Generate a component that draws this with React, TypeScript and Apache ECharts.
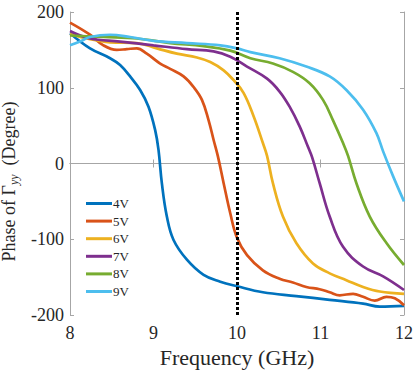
import React, { useEffect, useRef } from "react";
import * as echarts from "echarts";

const legendNames = ["4V", "5V", "6V", "7V", "8V", "9V"];
const colors = ["#0072BD", "#D95319", "#EDB120", "#7E2F8E", "#77AC30", "#4DBEEE"];

const v4: [number, number][] = [
  [8.0, 172], [8.24, 152], [8.48, 139], [8.6, 130], [8.72, 115], [8.84, 97], [8.94, 75],
  [9.02, 44], [9.06, 18], [9.1, -26], [9.16, -70], [9.24, -101], [9.4, -127], [9.6, -147],
  [9.8, -156], [10.0, -162], [10.31, -170], [10.71, -175], [11.11, -180], [11.51, -185],
  [11.71, -189], [12.0, -188],
];
const v5: [number, number][] = [
  [8.0, 186], [8.24, 170], [8.4, 156], [8.56, 150], [8.68, 151], [8.8, 152], [8.92, 145],
  [9.08, 132], [9.2, 125], [9.36, 115], [9.48, 101], [9.58, 84], [9.66, 57], [9.72, 31],
  [9.77, 10], [9.84, -26], [9.92, -66], [10.0, -98], [10.12, -121], [10.31, -141],
  [10.51, -152], [10.67, -157], [10.83, -163], [10.99, -166], [11.11, -170], [11.23, -174],
  [11.39, -172], [11.51, -176], [11.65, -181], [11.79, -176], [11.89, -178], [12.0, -187],
];
const v6: [number, number][] = [
  [8.0, 171], [8.24, 164], [8.48, 160], [8.8, 159], [9.04, 152], [9.28, 145], [9.52, 140],
  [9.68, 134], [9.84, 123], [9.96, 110], [10.08, 93], [10.2, 62], [10.31, 27], [10.36, 10],
  [10.43, -26], [10.55, -70], [10.71, -105], [10.91, -132], [11.11, -145], [11.31, -154],
  [11.51, -163], [11.71, -169], [12.0, -172],
];
const v7: [number, number][] = [
  [8.0, 175], [8.24, 165], [8.6, 161], [9.0, 156], [9.4, 151], [9.72, 148], [9.92, 141],
  [10.12, 128], [10.36, 112], [10.51, 95], [10.63, 75], [10.75, 49], [10.85, 22],
  [10.9, 8], [10.99, -26], [11.11, -70], [11.27, -110], [11.51, -136], [11.75, -149],
  [12.0, -167],
];
const v8: [number, number][] = [
  [8.0, 169], [8.4, 167], [8.8, 165], [9.2, 159], [9.6, 155], [9.92, 149], [10.16, 139],
  [10.43, 132], [10.67, 121], [10.87, 106], [11.03, 84], [11.15, 57], [11.27, 27],
  [11.33, 10], [11.43, -26], [11.59, -70], [11.79, -105], [12.0, -134],
];
const v9: [number, number][] = [
  [8.0, 156], [8.12, 161], [8.24, 167], [8.48, 170], [8.72, 167], [9.0, 162], [9.4, 159],
  [9.8, 156], [10.0, 152], [10.16, 147], [10.51, 139], [10.83, 128], [11.11, 115],
  [11.31, 97], [11.51, 71], [11.67, 40], [11.75, 16], [11.87, -17], [12.0, -50],
];
const seriesData = [v4, v5, v6, v7, v8, v9];

const xTicks = { min: 8, max: 12, interval: 1 };
const yTicks = { min: -200, max: 200, interval: 100 };
const markerX = 10;

const font = "'Liberation Serif', 'Times New Roman', serif";
const axisGrey = "#a6a6a6";
const textDark = "#262626";

export default function App() {
  const ref = useRef<HTMLDivElement>(null);
  useEffect(() => {
    if (!ref.current) return;
    const chart = echarts.init(ref.current, undefined, { renderer: "svg" });
    const baseAxis = {
      axisLine: { show: true, lineStyle: { color: axisGrey, width: 1 } },
      axisTick: { show: true, inside: true, length: 4, lineStyle: { color: axisGrey } },
      splitLine: { show: false },
    };
    chart.setOption({
      animation: false,
      backgroundColor: "#ffffff",
      grid: { left: 70, right: 11, top: 12, bottom: 56, show: false, containLabel: false, outerBoundsMode: "none" },
      xAxis: [
        {
          type: "value",
          ...xTicks,
          ...baseAxis,
          position: "bottom",
          axisLabel: { color: textDark, fontFamily: font, fontSize: 18, margin: 9 },
          name: "Frequency (GHz)",
          nameLocation: "middle",
          nameGap: 26,
          nameTextStyle: { color: textDark, fontFamily: font, fontSize: 22 },
        },
        {
          type: "value",
          ...xTicks,
          ...baseAxis,
          position: "top",
          axisLabel: { show: false },
        },
      ],
      yAxis: [
        {
          type: "value",
          ...yTicks,
          ...baseAxis,
          position: "left",
          axisLabel: { color: textDark, fontFamily: font, fontSize: 18, margin: 6 },
          name: "{m|Phase of Γ}{s|yy}{m|  (Degree)}",
          nameLocation: "middle",
          nameGap: 50,
          nameRotate: 90,
          nameTextStyle: {
            color: textDark,
            fontFamily: font,
            fontSize: 18,
            padding: [0, 36, 0, 0],
            rich: {
              m: { fontFamily: font, fontSize: 18, color: textDark, lineHeight: 22, verticalAlign: "middle" },
              s: { fontFamily: font, fontSize: 12, fontStyle: "italic", color: textDark, lineHeight: 22, verticalAlign: "bottom" },
            },
          },
        },
        {
          type: "value",
          ...yTicks,
          ...baseAxis,
          position: "right",
          axisLabel: { show: false },
        },
      ],
      legend: {
        orient: "vertical",
        left: 81,
        top: 192,
        itemWidth: 26,
        itemHeight: 3,
        itemGap: 4.6,
        icon: "rect",
        data: legendNames,
        textStyle: { fontFamily: font, fontSize: 13, lineHeight: 12, color: textDark, padding: [0, 0, 0, -4] },
      },
      series: seriesData.map((d, i) => ({
        name: legendNames[i],
        type: "line",
        data: d,
        smooth: 0.4,
        symbol: "none",
        lineStyle: { color: colors[i], width: 2.7 },
        itemStyle: { color: colors[i] },
        z: 2 + i,
        ...(i === 0
          ? {
              markLine: {
                silent: true,
                symbol: "none",
                label: { show: false },
                lineStyle: { color: "#000000", type: [3, 2], width: 3 },
                data: [{ xAxis: markerX }],
                z: 10,
              },
            }
          : {}),
      })),
    });
    return () => chart.dispose();
  }, []);
  return <div ref={ref} style={{ width: 415, height: 371, position: "absolute", left: 0, top: 0 }} />;
}
